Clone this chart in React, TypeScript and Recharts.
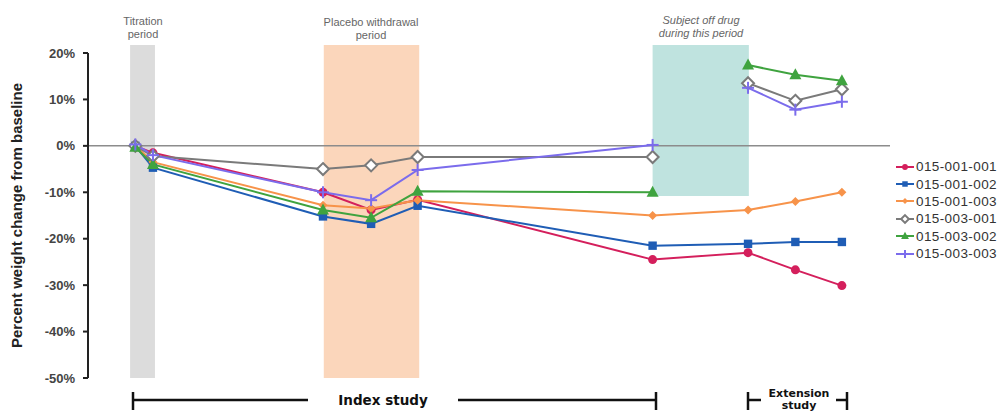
import React from "react";
import {
  LineChart,
  Line,
  XAxis,
  YAxis,
  ReferenceArea,
  ReferenceLine,
  Legend,
  Label,
} from "recharts";

// study time points (weeks, approx), with a gap row where some subjects were off drug
const weeks = [5.9, 8.1, 29.3, 35.3, 41.1, 70.4, 76, 82.3, 88.2, 94.0];

const s001001 = [0, -1.5, -10, -13.8, -11.6, -24.5, null, -23, -26.7, -30.1];
const s001002 = [0, -4.7, -15.2, -16.8, -12.9, -21.5, null, -21.1, -20.7, -20.7];
const s001003 = [0, -3.5, -12.8, -13.5, -11.7, -15, null, -13.8, -12, -10];
const s003001 = [0, -2.2, -5, -4.2, -2.4, -2.4, null, 13.5, 9.7, 12.2];
const s003002 = [-0.3, -4, -13.8, -15.5, -9.8, -10, null, 17.4, 15.3, 14];
const s003003 = [0.3, -2, -10, -11.7, -5.2, 0.2, null, 12.5, 7.8, 9.5];

const yTicks = [-50, -40, -30, -20, -10, 0, 10, 20];

const series = [
  { key: "a", name: "015-001-001", values: s001001, color: "#d41f5c", shape: "circle", connect: true },
  { key: "b", name: "015-001-002", values: s001002, color: "#1f5db5", shape: "square", connect: true },
  { key: "c", name: "015-001-003", values: s001003, color: "#f7934a", shape: "diamond", connect: true },
  { key: "d", name: "015-003-001", values: s003001, color: "#7a7a7a", shape: "open", connect: false },
  { key: "e", name: "015-003-002", values: s003002, color: "#3fa33f", shape: "triangle", connect: false },
  { key: "f", name: "015-003-003", values: s003003, color: "#7b6cec", shape: "plus", connect: false },
];

const data = weeks.map((w, i) => {
  const row: any = { week: w };
  series.forEach((s) => (row[s.key] = s.values[i]));
  return row;
});

const FONT = "'Liberation Sans', Arial, sans-serif";

function Marker({ shape, color, cx, cy, scale = 1 }: any) {
  const k = scale;
  switch (shape) {
    case "circle":
      return <circle cx={cx} cy={cy} r={4.5 * k} fill={color} />;
    case "square":
      return <rect x={cx - 4.2 * k} y={cy - 4.2 * k} width={8.4 * k} height={8.4 * k} fill={color} />;
    case "diamond":
      return (
        <polygon
          points={`${cx},${cy - 4.5 * k} ${cx + 4.5 * k},${cy} ${cx},${cy + 4.5 * k} ${cx - 4.5 * k},${cy}`}
          fill={color}
        />
      );
    case "open":
      return (
        <polygon
          points={`${cx},${cy - 6 * k} ${cx + 6 * k},${cy} ${cx},${cy + 6 * k} ${cx - 6 * k},${cy}`}
          fill="#fff"
          stroke={color}
          strokeWidth={2}
        />
      );
    case "triangle":
      return (
        <polygon
          points={`${cx},${cy - 6.5 * k} ${cx + 6 * k},${cy + 4.5 * k} ${cx - 6 * k},${cy + 4.5 * k}`}
          fill={color}
        />
      );
    default:
      return (
        <g stroke={color} strokeWidth={2}>
          <line x1={cx - 6 * k} y1={cy} x2={cx + 6 * k} y2={cy} />
          <line x1={cx} y1={cy - 6 * k} x2={cx} y2={cy + 6 * k} />
        </g>
      );
  }
}

const makeDot = (shape: string, color: string) => (props: any) => {
  const { cx, cy, value, index } = props;
  if (cx == null || cy == null || value == null) return <g key={index} />;
  return (
    <g key={index}>
      <Marker shape={shape} color={color} cx={cx} cy={cy} />
    </g>
  );
};

const renderLegend = () => (
  <div style={{ fontFamily: FONT, fontSize: 13.5, color: "#333", letterSpacing: 0.4 }}>
    {series.map((s) => (
      <div key={s.key} style={{ display: "flex", alignItems: "center", height: 17.4 }}>
        <svg width={20} height={12} style={{ marginRight: 1 }}>
          <line x1={1} y1={6} x2={19} y2={6} stroke={s.color} strokeWidth={2} />
          <Marker shape={s.shape} color={s.color} cx={10} cy={6} scale={0.65} />
        </svg>
        <span>{s.name}</span>
      </div>
    ))}
  </div>
);

export default function App() {
  return (
    <div style={{ position: "absolute", left: 0, top: 0, width: 1002, height: 412, background: "#fff" }}>
      <LineChart
        width={1002}
        height={412}
        data={data}
        margin={{ top: 53, right: 5, left: 0, bottom: 34 }}
      >
        <ReferenceArea x1={5.25} x2={8.35} y1={-50} y2={21.7} fill="#dcdcdc" fillOpacity={1} ifOverflow="visible" />
        <ReferenceArea x1={29.4} x2={41.3} y1={-50} y2={21.7} fill="#fbd6bb" fillOpacity={1} ifOverflow="visible" />
        <ReferenceArea x1={70.4} x2={82.4} y1={-10.8} y2={21.7} fill="#bfe3df" fillOpacity={1} ifOverflow="visible" />
        <XAxis
          dataKey="week"
          type="number"
          domain={[0, 100]}
          height={0}
          tick={false}
          tickLine={false}
          axisLine={{ stroke: "#222", strokeWidth: 2 }}
        />
        <YAxis
          width={88}
          domain={[-50, 20]}
          ticks={yTicks}
          tickFormatter={(v) => `${v}%`}
          tickSize={5}
          tickMargin={8}
          tick={{ fontFamily: FONT, fontSize: 13, fontWeight: "bold", fill: "#444" }}
          tickLine={{ stroke: "#222", strokeWidth: 2 }}
          axisLine={{ stroke: "#222", strokeWidth: 2 }}
        >
          <Label
            value="Percent weight change from baseline"
            angle={-90}
            position="insideLeft"
            offset={17}
            style={{ fontFamily: FONT, fontSize: 15, fontWeight: "bold", fill: "#222", textAnchor: "middle" }}
          />
        </YAxis>
        <ReferenceLine y={0} stroke="#8c8c8c" strokeWidth={1.5} />
        {series.map((s) => (
          <Line
            key={s.key}
            dataKey={s.key}
            name={s.name}
            type="linear"
            stroke={s.color}
            strokeWidth={2}
            connectNulls={s.connect}
            dot={makeDot(s.shape, s.color)}
            activeDot={false}
            isAnimationActive={false}
          />
        ))}
        <Legend
          layout="vertical"
          align="right"
          verticalAlign="middle"
          content={renderLegend}
          wrapperStyle={{ position: "absolute", left: 895, top: 158, width: 107 }}
        />
      </LineChart>
      <svg
        width={1002}
        height={412}
        style={{ position: "absolute", left: 0, top: 0, pointerEvents: "none" }}
      >
        <g fontFamily={FONT} fontSize={11} fill="#666" textAnchor="middle">
          <text x={143} y={25}>Titration</text>
          <text x={143} y={38}>period</text>
          <text x={371} y={26}>Placebo withdrawal</text>
          <text x={371} y={39}>period</text>
          <text x={701} y={24} fontStyle="italic">Subject off drug</text>
          <text x={701} y={37} fontStyle="italic">during this period</text>
        </g>
        <g stroke="#111" strokeWidth={2.5}>
          <line x1={133} y1={400} x2={308} y2={400} />
          <line x1={133} y1={392} x2={133} y2={410} />
          <line x1={458} y1={400} x2={656} y2={400} />
          <line x1={656} y1={392} x2={656} y2={410} />
          <line x1={748} y1={400} x2={761} y2={400} />
          <line x1={748} y1={392} x2={748} y2={410} />
          <line x1={836} y1={400} x2={847} y2={400} />
          <line x1={847} y1={392} x2={847} y2={410} />
        </g>
        <g fontFamily="'DejaVu Sans', Verdana, sans-serif" fontWeight="bold" fill="#111" textAnchor="middle">
          <text x={383} y={405} fontSize={13.5}>Index study</text>
          <text x={799} y={397} fontSize={11}>Extension</text>
          <text x={799} y={409} fontSize={11}>study</text>
        </g>
      </svg>
    </div>
  );
}
